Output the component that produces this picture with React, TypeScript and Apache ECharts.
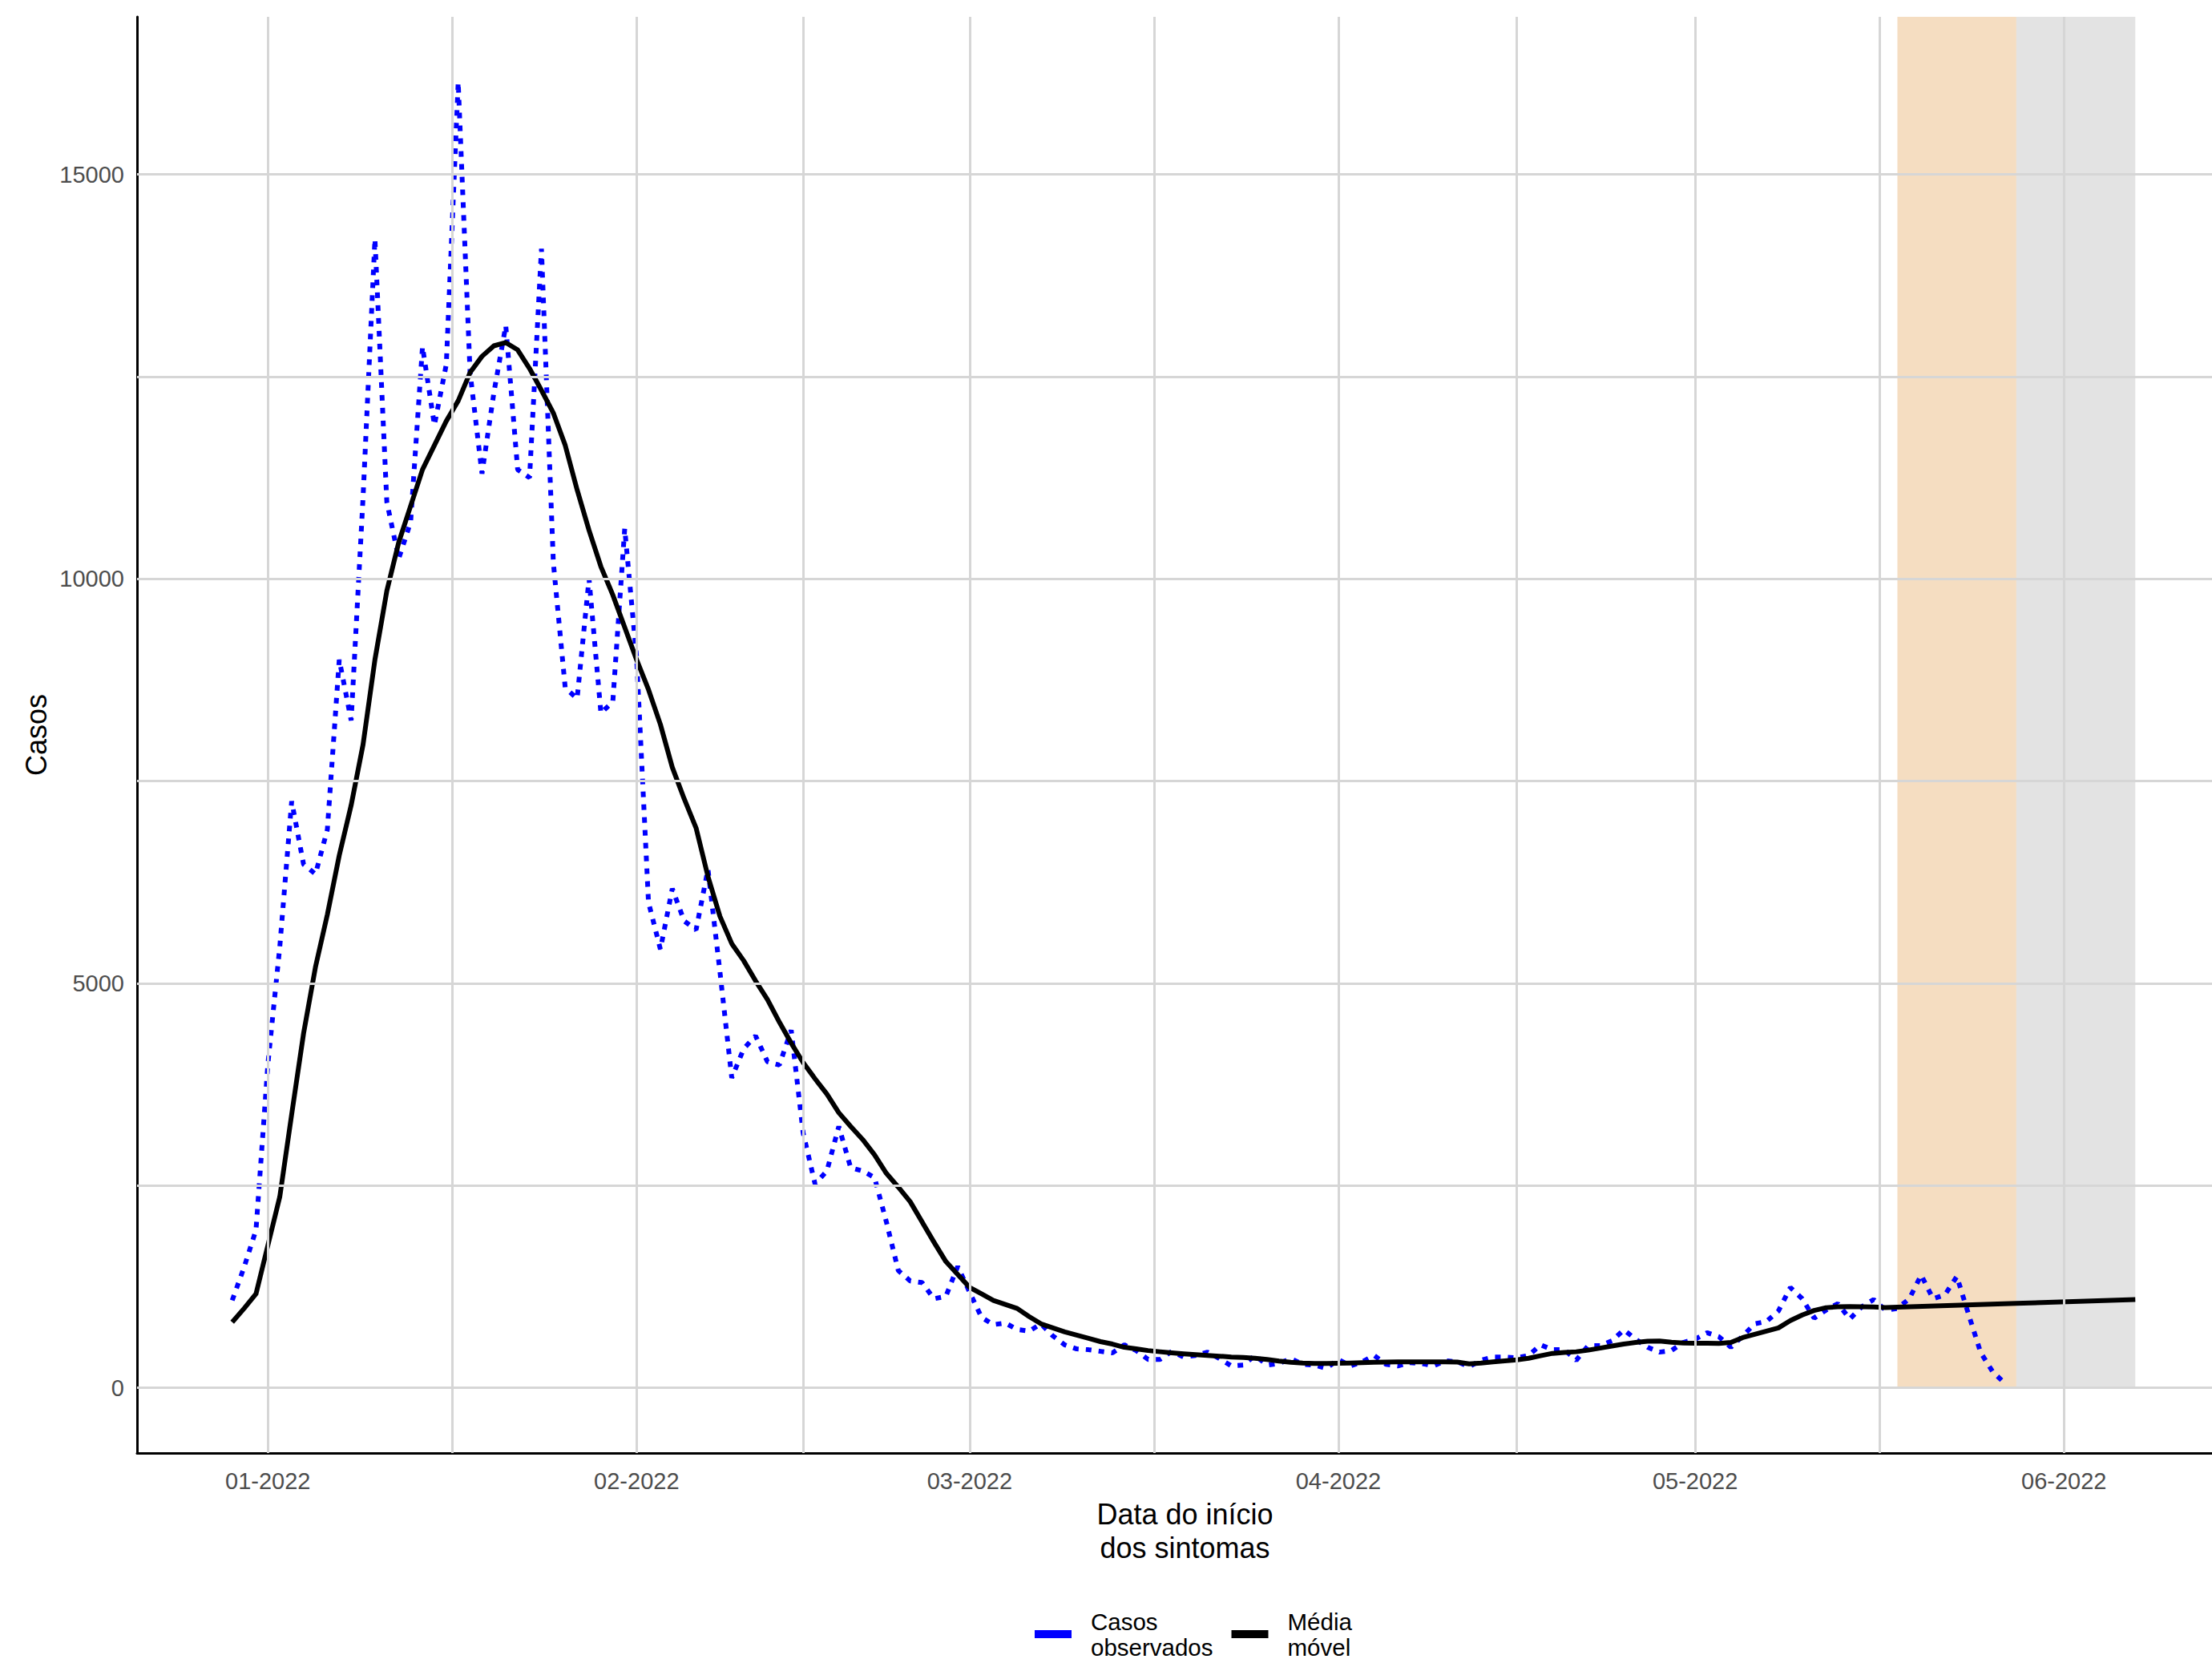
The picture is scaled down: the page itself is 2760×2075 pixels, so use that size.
import React, { useEffect, useRef } from "react";
import * as echarts from "echarts";

// ---- data ----
const firstDay = -3; // day index (0 = 2022-01-01) of the first observation (2021-12-29)

const observedCases = [
  1080, 1490, 1950, 4000, 5450, 7250, 6470, 6350, 6900, 9000, 8250, 11000, 14200,
  10950, 10250, 10700, 12870, 11900, 12650, 16140, 12550, 11300, 12300, 13130, 11350,
  11250, 14080, 10200, 8650, 8520, 10000, 8340, 8480, 10620, 9030, 6000, 5420, 6170,
  5770, 5660, 6410, 5150, 3830, 4190, 4350, 4030, 3990, 4420, 3150, 2520, 2680, 3230,
  2720, 2680, 2600, 2050, 1450, 1320, 1300, 1100, 1130, 1500, 1180, 870, 780, 800,
  720, 700, 790, 640, 530, 480, 470, 450, 430, 530, 460, 350, 350, 450, 380, 400, 440,
  360, 270, 280, 400, 280, 300, 360, 290, 280, 240, 350, 270, 320, 400, 290, 270, 310,
  300, 270, 335, 320, 260, 340, 380, 380, 370, 400, 530, 470, 470, 340, 520, 520, 580,
  716, 600, 500, 440, 460, 560, 600, 680, 630, 500, 640, 790, 820, 950, 1240, 1100,
  860, 960, 1040, 850, 1000, 1090, 960, 980, 1100, 1393, 1100, 1150, 1376, 900, 436,
  200, 60,
];

const movingAverage = [
  810, 980, 1160, 1760, 2360, 3380, 4380, 5200, 5850, 6580, 7200, 7950, 9000, 9850,
  10450, 10900, 11350, 11650, 11950, 12200, 12550, 12750, 12880, 12920, 12830, 12600,
  12330, 12050, 11650, 11100, 10600, 10150, 9800, 9400, 9000, 8630, 8200, 7670, 7280,
  6920, 6320, 5830, 5490, 5280, 5030, 4800, 4520, 4260, 4020, 3820, 3630, 3400, 3230,
  3070, 2880, 2650, 2480, 2300, 2050, 1800, 1560, 1400, 1240, 1160, 1080, 1030, 980,
  880, 790, 740, 690, 650, 610, 570, 540, 500, 480, 460, 445, 432, 420, 410, 400, 390,
  380, 374, 365, 350, 330, 315, 305, 300, 300, 302, 306, 310, 314, 318, 320, 320, 320,
  320, 320, 318, 295, 305, 320, 332, 345, 365, 396, 425, 436, 445, 465, 490, 515, 540,
  560, 574, 578, 562, 552, 551, 551, 548, 560, 620, 660, 700, 740, 830, 900, 955, 990,
  1000, 1003, 1002, 998, 990, 997,
];

// projected continuation of the moving average: [day, value]
const movingAverageProjection = [
  [147, 1043],
  [157, 1090],
];

// shaded bands (day ranges)
const bandDays = [
  [137, 147],
  [147, 157],
];

const monthStartDays = [0, 31, 59, 90, 120, 151];
const monthLabels = ["01-2022", "02-2022", "03-2022", "04-2022", "05-2022", "06-2022"];
const yTickValues = [0, 5000, 10000, 15000];
const yGridValues = [0, 2500, 5000, 7500, 10000, 12500, 15000];

const X_MIN = -11;
const X_MAX = 163.45;
const Y_MIN = -807;
const Y_MAX = 16947;

const FONT = '"Liberation Sans", Arial, Helvetica, sans-serif';

export default function App() {
  const ref = useRef<HTMLDivElement>(null);

  useEffect(() => {
    document.body.style.margin = "0";
    if (!ref.current) return;
    const chart = echarts.init(ref.current, undefined, { renderer: "svg" });

    const observedData = observedCases.map((v, i) => [firstDay + i, v]);
    const maData = movingAverage
      .map((v, i) => [firstDay + i, v])
      .concat(movingAverageProjection);

    const minorX: number[] = [];
    for (let i = 0; i < monthStartDays.length - 1; i++) {
      minorX.push((monthStartDays[i] + monthStartDays[i + 1]) / 2);
    }

    const gridMarkData: any[] = [
      ...monthStartDays.map((v) => ({ xAxis: v })),
      ...minorX.map((v) => ({ xAxis: v })),
      ...yGridValues.map((v) => ({ yAxis: v })),
    ];

    const bandColors = ["rgba(230,173,108,0.42)", "rgba(185,185,185,0.4)"];

    chart.setOption({
      animation: false,
      backgroundColor: "#ffffff",
      textStyle: { fontFamily: FONT },
      grid: { left: 171, right: 0, top: 21, bottom: 262, containLabel: false },
      xAxis: {
        type: "value",
        min: X_MIN,
        max: X_MAX,
        axisLine: { show: true, onZero: false, lineStyle: { color: "#000", width: 3 } },
        axisTick: { show: false },
        splitLine: { show: false },
        axisLabel: {
          customValues: monthStartDays,
          formatter: (v: number) => {
            const k = monthStartDays.indexOf(v);
            return k >= 0 ? monthLabels[k] : "";
          },
          color: "#4d4d4d",
          fontSize: 29,
          margin: 20,
          fontFamily: FONT,
        },
        name: "Data do início\ndos sintomas",
        nameLocation: "middle",
        nameGap: 55,
        nameTextStyle: {
          fontSize: 36,
          lineHeight: 42,
          color: "#000",
          fontFamily: FONT,
          padding: [0, 0, 0, 26],
        },
      },
      yAxis: {
        type: "value",
        min: Y_MIN,
        max: Y_MAX,
        axisLine: { show: true, onZero: false, lineStyle: { color: "#000", width: 3 } },
        axisTick: { show: false },
        splitLine: { show: false },
        axisLabel: {
          customValues: yTickValues,
          formatter: (v: number) => String(v),
          color: "#4d4d4d",
          fontSize: 29,
          margin: 16,
          fontFamily: FONT,
        },
        name: "Casos",
        nameLocation: "middle",
        nameGap: 107,
        nameRotate: 90,
        nameTextStyle: { fontSize: 36, color: "#000", fontFamily: FONT },
      },
      legend: {
        show: true,
        left: 1291,
        top: 2007,
        padding: 0,
        orient: "horizontal",
        itemWidth: 46,
        itemHeight: 10,
        itemGap: 23,
        icon: "rect",
        selectedMode: false,
        textStyle: {
          fontSize: 29.5,
          lineHeight: 32,
          color: "#000",
          fontFamily: FONT,
          padding: [0, 0, 0, 19],
        },
        formatter: (name: string) => name.replace(" ", "\n"),
        data: [
          { name: "Casos observados", itemStyle: { color: "#0000ff", borderWidth: 0 } },
          { name: "Média móvel", itemStyle: { color: "#000000", borderWidth: 0 } },
        ],
      },
      series: [
        {
          name: "grid",
          type: "line",
          data: [],
          z: 1,
          silent: true,
          markLine: {
            silent: true,
            symbol: ["none", "none"],
            label: { show: false },
            lineStyle: { color: "#d6d6d6", width: 3, type: "solid" },
            emphasis: { disabled: true },
            data: gridMarkData,
          },
        },
        {
          name: "Casos observados",
          type: "line",
          data: observedData,
          z: 2,
          showSymbol: false,
          symbol: "none",
          color: "#0000ff",
          lineStyle: { color: "#0000ff", width: 6, type: [7, 9], cap: "butt" },
          emphasis: { disabled: true },
        },
        {
          name: "Média móvel",
          type: "line",
          data: maData,
          z: 3,
          showSymbol: false,
          symbol: "none",
          color: "#000000",
          lineStyle: { color: "#000000", width: 6, join: "round" },
          emphasis: { disabled: true },
        },
        {
          name: "bands",
          type: "line",
          data: [],
          z: 10,
          silent: true,
          markArea: {
            silent: true,
            data: bandDays.map((b, i) => [
              { xAxis: b[0], yAxis: 0, itemStyle: { color: bandColors[i] } },
              { xAxis: b[1], yAxis: Y_MAX },
            ]),
          },
        },
      ],
    });

    return () => chart.dispose();
  }, []);

  return (
    <div
      ref={ref}
      style={{ position: "absolute", left: 0, top: 0, width: 2760, height: 2075 }}
    />
  );
}
